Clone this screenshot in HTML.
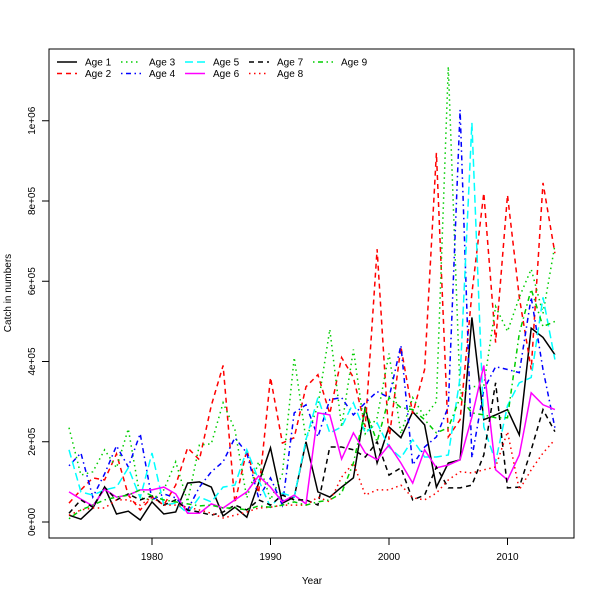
<!DOCTYPE html>
<html><head><meta charset="utf-8"><style>
html,body{margin:0;padding:0;background:#fff;}
svg{display:block;font-family:"Liberation Sans",Arial,sans-serif;}
</style></head><body>
<svg id="chart" width="600" height="600" viewBox="0 0 600 600" xmlns="http://www.w3.org/2000/svg">
<rect x="0" y="0" width="600" height="600" fill="#fff"/>
<g id="series"></g>
<rect x="49" y="49" width="525" height="489" fill="none" stroke="#000" stroke-width="1"/>
<g id="xaxis"></g>
<g id="yaxis"></g>
<text x="312" y="584" font-size="10" text-anchor="middle">Year</text>
<text transform="translate(11,293) rotate(-90)" font-size="10" text-anchor="middle">Catch in numbers</text>
<g id="legend"></g>
</svg>
<script>
const years = [];
for (let y = 1973; y <= 2014; y++) years.push(y);
// values in units of 1e5
const age1 = [0.17,0.07,0.35,0.87,0.2,0.27,0.05,0.5,0.2,0.25,0.97,1.0,0.87,0.15,0.37,0.12,0.97,1.85,0.47,0.62,2.0,0.75,0.62,0.87,1.1,2.87,1.47,2.37,2.1,2.75,2.42,0.87,1.47,1.55,5.1,2.55,2.67,2.8,2.17,4.83,4.6,4.17];
const age2 = [0.47,0.8,1.1,1.05,1.7,0.67,0.3,0.62,0.42,0.92,1.85,1.55,2.9,3.9,0.47,1.8,0.72,3.6,1.97,2.1,3.37,3.67,2.7,4.1,3.6,2.37,6.8,2.05,4.37,2.7,3.8,9.2,2.12,2.55,5.7,8.2,4.47,8.15,5.6,3.8,8.45,6.7];
const age3 = [2.35,1.17,1.25,1.8,1.35,2.32,0.6,0.55,0.8,1.5,0.5,1.92,1.95,2.97,2.3,0.6,1.5,0.55,1.2,4.1,2.05,2.9,4.8,2.37,4.3,2.2,2.6,4.2,2.2,3.1,2.62,3.0,11.35,3.2,3.37,3.4,5.37,4.75,5.6,6.3,5.2,6.9];
const age4 = [1.4,1.72,0.62,1.2,1.9,1.37,2.2,0.55,0.7,0.6,0.3,0.87,1.25,1.5,2.1,1.72,0.6,1.1,0.42,2.72,2.92,2.12,3.05,3.1,2.67,2.97,3.25,3.1,4.4,1.42,1.87,2.12,2.87,10.27,1.6,3.3,3.87,3.8,3.72,5.6,3.8,2.35];
const age5 = [1.8,0.75,0.67,0.8,0.87,1.35,0.6,1.72,0.42,0.47,0.22,0.62,0.5,0.87,0.92,1.8,1.05,0.37,0.72,0.62,2.05,3.1,2.22,2.37,2.97,2.22,2.47,1.87,1.6,2.05,1.62,1.62,1.67,3.6,9.95,2.37,1.5,2.9,3.47,3.6,5.6,4.05];
const age6 = [0.75,0.57,0.4,0.82,0.62,0.67,0.8,0.8,0.87,0.7,0.22,0.22,0.45,0.35,0.55,0.75,1.15,0.87,0.5,0.67,0.45,2.72,2.67,1.57,2.22,1.72,1.55,1.92,1.47,0.97,1.8,1.35,1.42,1.55,2.62,3.9,1.3,1.05,1.67,3.22,2.92,2.8];
const age7 = [0.22,0.55,0.37,0.87,0.55,0.7,0.55,0.65,0.42,0.55,0.3,0.25,0.17,0.25,0.42,0.3,0.55,0.42,0.67,0.55,0.55,0.42,1.87,1.87,1.8,1.62,2.0,1.17,1.35,0.55,0.67,1.37,0.85,0.85,0.92,1.67,3.47,0.85,0.87,1.8,2.8,2.25];
const age8 = [0.17,0.3,0.35,0.35,0.55,0.55,0.42,0.62,0.42,0.42,0.37,0.3,0.22,0.1,0.17,0.25,0.35,0.37,0.42,0.42,0.42,0.62,0.5,1.12,1.47,0.67,0.8,0.8,0.92,0.6,0.55,0.72,1.05,1.25,1.22,1.3,1.37,2.25,0.8,1.3,1.72,2.05];
const age9 = [0.08,0.3,0.42,0.55,0.62,0.67,0.8,0.65,0.55,0.5,0.45,0.4,0.42,0.35,0.35,0.3,0.4,0.37,0.42,0.5,0.42,0.5,0.55,0.72,1.47,2.8,2.0,3.1,2.85,2.8,2.55,2.22,2.35,3.1,2.72,2.67,2.6,2.6,4.7,5.8,4.87,5.0];
const seriesNames = ["Age 1","Age 2","Age 3","Age 4","Age 5","Age 6","Age 7","Age 8","Age 9"];
const xTicks = [1980,1990,2000,2010];
const yTicks = [0,2,4,6,8,10];
const yTickLabels = ["0e+00","2e+05","4e+05","6e+05","8e+05","1e+06"];

const NS = "http://www.w3.org/2000/svg";
const xs = yr => 152 + (yr - 1980) * 11.85;
const ys = v => 522 - v * 40.125;
const colors = ["#000","#FF0000","#00CD00","#0000FF","#00FFFF","#FF00FF","#000","#FF0000","#00CD00"];
const dashes = ["", "5,4", "1.5,3.5", "1.5,3.5,5,3.5", "8,4", "", "5,4", "1.5,3.5", "1.5,3.5,5,3.5"];
const allSeries = [age1,age2,age3,age4,age5,age6,age7,age8,age9];

const sg = document.getElementById('series');
allSeries.forEach((arr, i) => {
  const p = document.createElementNS(NS, 'polyline');
  p.setAttribute('points', arr.map((v, j) => xs(years[j]).toFixed(1) + ',' + ys(v).toFixed(1)).join(' '));
  p.setAttribute('fill', 'none');
  p.setAttribute('stroke', colors[i]);
  p.setAttribute('stroke-width', '1.5');
  if (dashes[i]) p.setAttribute('stroke-dasharray', dashes[i]);
  
  
  sg.appendChild(p);
});

const xa = document.getElementById('xaxis');
xTicks.forEach(t => {
  const l = document.createElementNS(NS, 'line');
  l.setAttribute('x1', xs(t)); l.setAttribute('x2', xs(t));
  l.setAttribute('y1', 538); l.setAttribute('y2', 545);
  l.setAttribute('stroke', '#000');
  
  
  xa.appendChild(l);
  const tx = document.createElementNS(NS, 'text');
  tx.setAttribute('x', xs(t)); tx.setAttribute('y', 560);
  tx.setAttribute('font-size', '10'); tx.setAttribute('text-anchor', 'middle');
  tx.textContent = t;
  
  
  xa.appendChild(tx);
});
const ax = document.createElementNS(NS, 'line');
ax.setAttribute('x1', xs(1980)); ax.setAttribute('x2', xs(2010));
ax.setAttribute('y1', 538); ax.setAttribute('y2', 538); ax.setAttribute('stroke', '#000');


xa.appendChild(ax);

const ya = document.getElementById('yaxis');
yTicks.forEach((t, i) => {
  const l = document.createElementNS(NS, 'line');
  l.setAttribute('x1', 42); l.setAttribute('x2', 49);
  l.setAttribute('y1', ys(t)); l.setAttribute('y2', ys(t));
  l.setAttribute('stroke', '#000');
  
  
  ya.appendChild(l);
  const tx = document.createElementNS(NS, 'text');
  tx.setAttribute('transform', 'translate(35,' + ys(t) + ') rotate(-90)');
  tx.setAttribute('font-size', '10'); tx.setAttribute('text-anchor', 'middle');
  tx.textContent = yTickLabels[i];
  
  
  ya.appendChild(tx);
});

const lg = document.getElementById('legend');
seriesNames.forEach((n, i) => {
  const col = Math.floor(i / 2), row = i % 2;
  const x0 = 57 + col * 64, y0 = 62 + row * 11.5;
  const l = document.createElementNS(NS, 'line');
  l.setAttribute('x1', x0); l.setAttribute('x2', x0 + 20);
  l.setAttribute('y1', y0); l.setAttribute('y2', y0);
  l.setAttribute('stroke', colors[i]); l.setAttribute('stroke-width', '1.5');
  if (dashes[i]) l.setAttribute('stroke-dasharray', dashes[i]);
  
  
  lg.appendChild(l);
  const tx = document.createElementNS(NS, 'text');
  tx.setAttribute('x', x0 + 28); tx.setAttribute('y', y0 + 3.5);
  tx.setAttribute('font-size', '10');
  tx.textContent = n;
  
  
  lg.appendChild(tx);
});
</script>
</body></html>
